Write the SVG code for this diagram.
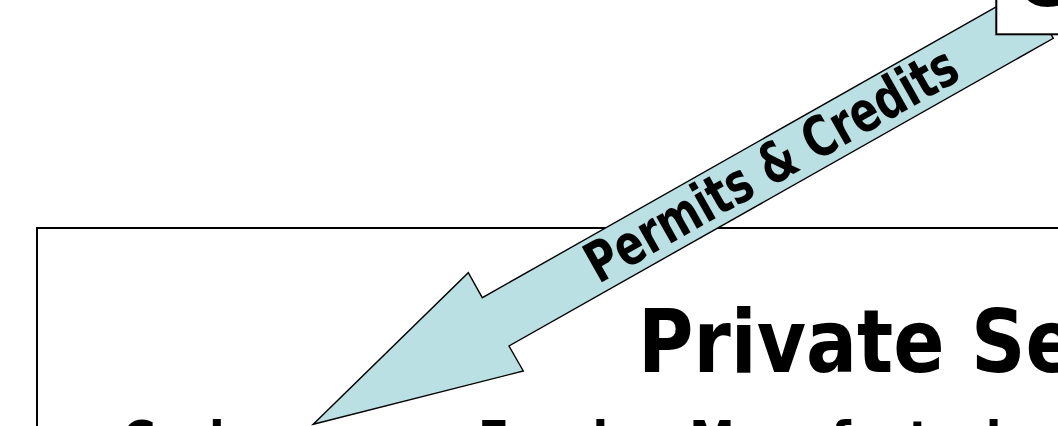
<svg xmlns="http://www.w3.org/2000/svg" width="1058" height="426" viewBox="0 0 1058 426">
  <style>
    .box { fill: #FFFFFF; stroke: #000000; stroke-width: 2; }
    .arrow { fill: #BBE0E3; stroke: #000000; stroke-width: 1.4; stroke-linejoin: miter; }
    .title { font-family: "DejaVu Sans", Verdana, sans-serif; font-weight: bold; font-size: 88px; fill: #000000; }
    .item { font-family: "DejaVu Sans", Verdana, sans-serif; font-weight: bold; font-size: 52px; fill: #000000; }
    .label { font-family: "DejaVu Sans", Verdana, sans-serif; font-weight: bold; font-size: 56px; fill: #000000; }
  </style>
  <rect width="1058" height="426" fill="#FFFFFF"/>
  <g id="private-sector">
    <rect class="box" x="37" y="228" width="1100" height="300"/>
    <text class="title" transform="translate(638,372) scale(0.86,1)">Private Se</text>
    <text class="item" transform="translate(122,458) scale(0.88,1)">Carbon</text>
    <text class="item" transform="translate(478,458) scale(0.88,1)">Foreign Manufacturing</text>
  </g>
  <g id="connectors">
    <polygon class="arrow" points="313.3,424.3 523.3,371 509,346 1053.3,38.3 1026,-10 482.3,297.7 468.3,272.7"/>
    <text class="label" transform="translate(598.6,284.3) rotate(-29.5) scale(0.75,1)">Permits &amp; Credits</text>
  </g>
  <g id="government">
    <rect class="box" x="996.3" y="-100" width="200" height="134.3"/>
    <text class="title" transform="translate(1014,6) scale(0.86,1)">G</text>
  </g>
</svg>
